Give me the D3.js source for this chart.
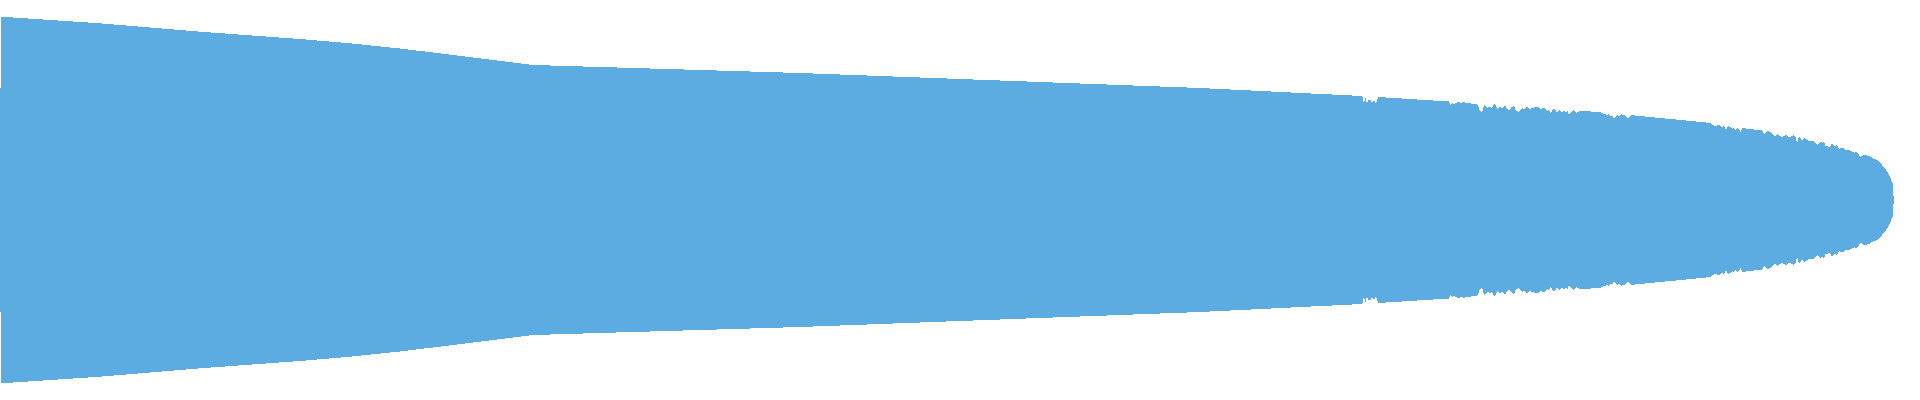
<!DOCTYPE html>
<html>
<head>
<meta charset="utf-8">
<script src="https://cdn.jsdelivr.net/npm/d3@7"></script>
<style>
  html, body { margin: 0; padding: 0; background: #fff; }
  .wave { fill: #5dace1; shape-rendering: crispEdges; }
</style>
</head>
<body>
<div class="sh"></div>
<script>
// peak envelope of the clip (frame = pixel column, peak = +/- level)
var frames = [0, 1, 1, 100, 200, 300, 350, 400, 467, 533, 800, 1200, 1362,
    1363, 1364, 1365, 1366, 1367, 1368, 1370, 1371, 1372, 1373, 1375, 1376, 1377, 1378,
    1449, 1451, 1452, 1453, 1456, 1459, 1461, 1464, 1466, 1470, 1472, 1476, 1478, 1480,
    1482, 1484, 1486, 1487, 1490, 1492, 1494, 1496, 1497, 1500, 1502, 1505, 1507, 1509,
    1511, 1512, 1514, 1516, 1519, 1521, 1522, 1524, 1527, 1529, 1533, 1538, 1540, 1543,
    1546, 1547, 1549, 1551, 1552, 1554, 1556, 1557, 1559, 1561, 1562, 1564, 1566, 1567,
    1569, 1571, 1572, 1574, 1576, 1578, 1580, 1601, 1602, 1604, 1607, 1609, 1611, 1612,
    1614, 1616, 1617, 1619, 1621, 1623, 1626, 1628, 1632, 1635, 1711, 1712, 1715, 1718,
    1721, 1722, 1724, 1726, 1728, 1731, 1732, 1734, 1736, 1737, 1739, 1741, 1742, 1762,
    1763, 1764, 1766, 1768, 1771, 1772, 1775, 1777, 1780, 1782, 1784, 1786, 1787, 1790,
    1792, 1794, 1796, 1797, 1799, 1801, 1802, 1804, 1807, 1809, 1811, 1814, 1817, 1819,
    1821, 1822, 1824, 1826, 1827, 1829, 1831, 1832, 1834, 1837, 1839, 1842, 1844, 1846,
    1849, 1852, 1854, 1857, 1859, 1861, 1862, 1866, 1870, 1873, 1877, 1880, 1882, 1884,
    1886, 1888, 1890, 1891.5, 1892.5, 1893, 1893.5, 1894];

var peaks = [112, 112, 183.3, 176.7, 168.3, 161, 156.7, 151.5, 143.3, 135, 127, 112, 104,
    102, 95, 102, 102, 95, 100, 100, 99, 97, 99, 99, 96, 99, 103,
    98.5, 94, 98, 96, 97, 98.3, 96.7, 98.3, 96.7, 97.3, 96, 96, 94, 89,
    87.3, 95, 94.3, 91.7, 93.3, 91.7, 95.7, 95, 91, 94, 91.7, 94.3, 91.7, 90,
    91.7, 93.3, 94, 89.3, 88.3, 90, 92.7, 91, 93, 91, 92.3, 93, 91, 92,
    91, 89, 90, 86, 90, 91, 89, 86.7, 90, 89, 86.7, 90, 86.7, 90,
    85, 87.7, 89, 90, 86.7, 88.3, 89, 88, 86.7, 86, 85, 86, 83.3, 84.3,
    81.7, 83, 85, 83, 85.7, 85, 84, 81.7, 85, 84.5, 77, 75, 74, 75,
    74, 72.7, 74, 70, 74, 72.7, 71, 71.7, 70, 72.7, 71, 67.3, 72, 69.5,
    68.3, 65, 67.3, 69, 67.3, 66, 64, 66, 64, 62.7, 64, 66, 64, 62.7,
    64, 65, 61.7, 56.7, 63.3, 61.7, 59.3, 61.7, 60.7, 58.3, 59.3, 59, 55, 56.7,
    58.3, 56.7, 58.3, 52.7, 55, 52.7, 55, 56.7, 54, 55, 50.7, 52.7, 51.7, 50,
    50, 48.3, 47.3, 48.3, 45, 42.7, 44.3, 45, 43.3, 41.7, 40, 37.7, 35, 32.7,
    30, 27, 23, 19, 17, 10, 4, 0];

var width = 1920,
    height = 400;

var data = frames.map(function (f, i) { return { frame: f, peak: peaks[i] }; });

var x = d3.scaleLinear()
    .domain([0, 1920])
    .range([0, width]);
var y = d3.scaleLinear()
    .domain([-200, 200])
    .range([height, 0]);

var svg = d3.select('.sh').append("svg")
    .attr("width", width)
    .attr("height", height)
    .style("display", "block");

var area = d3.area()
    .x(function (d) { return x(d.frame); })
    .y0(function (d) { return y(-d.peak); })
    .y1(function (d) { return y(d.peak); });

svg.append("path")
    .datum(data)
    .attr("class", "wave")
    .attr("d", area);
</script>
</body>
</html>
